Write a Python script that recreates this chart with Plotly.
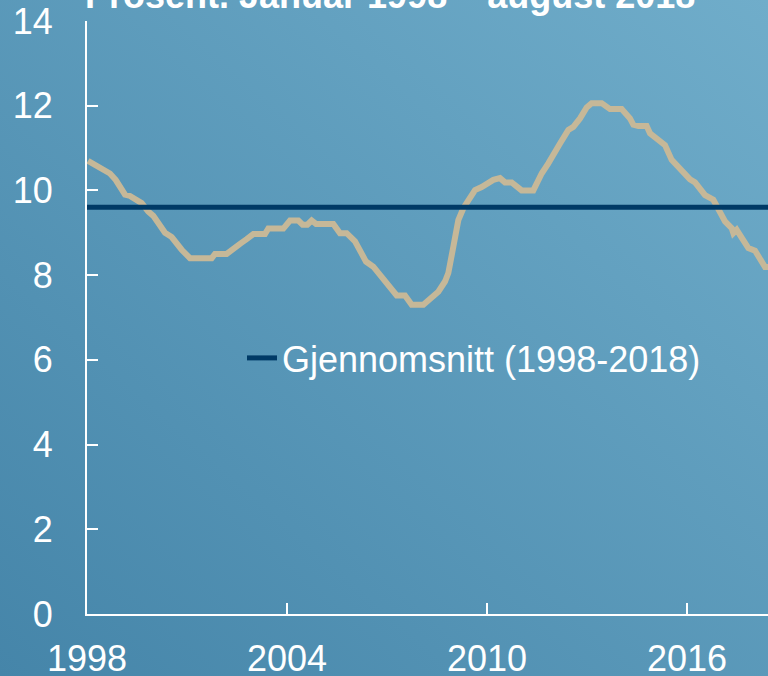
import base64
import plotly.graph_objects as go

# ---- data ----
years = [1998.03, 1998.24, 1998.44, 1998.69, 1998.86, 1999.14, 1999.29, 1999.44, 1999.64, 1999.84,
         1999.99, 2000.34, 2000.54, 2000.84, 2000.94, 2001.09, 2001.74, 2001.84, 2002.19, 2002.39,
         2002.59, 2002.79, 2002.99, 2003.34, 2003.44, 2003.89, 2004.09, 2004.34, 2004.47, 2004.61,
         2004.74, 2004.87, 2005.39, 2005.59, 2005.79, 2006.04, 2006.19, 2006.37, 2006.59, 2006.94,
         2007.29, 2007.54, 2007.74, 2008.09, 2008.24, 2008.39, 2008.54, 2008.74, 2008.84, 2008.99,
         2009.14, 2009.29, 2009.49, 2009.64, 2009.84, 2009.99, 2010.19, 2010.39, 2010.54, 2010.74,
         2010.89, 2011.04, 2011.39, 2011.49, 2011.64, 2011.84, 2012.04, 2012.19, 2012.44, 2012.59,
         2012.79, 2012.99, 2013.14, 2013.44, 2013.69, 2014.04, 2014.29, 2014.39, 2014.54, 2014.79,
         2014.89, 2015.09, 2015.34, 2015.54, 2015.69, 2015.89, 2016.09, 2016.24, 2016.54, 2016.79,
         2016.94, 2017.14, 2017.34, 2017.39, 2017.49, 2017.84, 2018.04, 2018.24, 2018.34, 2018.43]
values = [10.7, 10.6, 10.5, 10.4, 10.25, 9.9, 9.87, 9.8, 9.7, 9.5,
          9.4, 9.0, 8.9, 8.6, 8.52, 8.4, 8.4, 8.5, 8.5, 8.64,
          8.74, 8.85, 8.97, 8.97, 9.1, 9.1, 9.29, 9.29, 9.19, 9.19,
          9.29, 9.21, 9.21, 8.99, 8.99, 8.8, 8.61, 8.32, 8.2, 7.87,
          7.52, 7.52, 7.3, 7.3, 7.41, 7.49, 7.61, 7.85, 8.05, 8.67,
          9.3, 9.58, 9.85, 10.01, 10.08, 10.17, 10.25, 10.29, 10.19, 10.19,
          10.09, 10.0, 10.0, 10.17, 10.4, 10.64, 10.88, 11.11, 11.43, 11.5,
          11.7, 11.96, 12.06, 12.06, 11.92, 11.92, 11.7, 11.55, 11.52, 11.52,
          11.35, 11.23, 11.07, 10.72, 10.58, 10.44, 10.26, 10.19, 9.89, 9.78,
          9.58, 9.27, 9.11, 8.99, 9.07, 8.64, 8.58, 8.36, 8.19, 8.19]
avg_years = [1998.0, 2018.6]
avg_values = [9.6, 9.6]
avg_label = "Gjennomsnitt (1998-2018)"
title_text = "<b>Prosent. Januar 1998 – august 2018</b>"
x_ticks = [1998, 2004, 2010, 2016]
y_ticks = [0, 2, 4, 6, 8, 10, 12, 14]

W, H = 768, 676
L, R, T, B = 87, 0, 21, 62
pw, ph = W - L - R, H - T - B

FONT = "Liberation Sans, Arial, sans-serif"

svg = ('<svg xmlns="http://www.w3.org/2000/svg" width="768" height="676" preserveAspectRatio="none">'
       '<defs><linearGradient id="g" x1="0" y1="1" x2="1" y2="0">'
       '<stop offset="0" stop-color="#4585a9"/><stop offset="1" stop-color="#70adca"/>'
       '</linearGradient></defs><rect width="768" height="676" fill="url(#g)"/></svg>')
bg_src = "data:image/svg+xml;base64," + base64.b64encode(svg.encode()).decode()

fig = go.Figure()
fig.add_trace(go.Scatter(x=years, y=values, mode="lines",
                         line=dict(color="#c6b898", width=6),
                         showlegend=False, hoverinfo="skip"))
fig.add_trace(go.Scatter(x=avg_years, y=avg_values, mode="lines",
                         line=dict(color="#003a66", width=5),
                         name=avg_label, showlegend=True))

fig.update_layout(
    width=W, height=H,
    margin=dict(l=L, r=R, t=T, b=B, pad=0, autoexpand=False),
    paper_bgcolor="#5898bb",
    plot_bgcolor="rgba(0,0,0,0)",
    font=dict(family=FONT, color="white", size=36),
    images=[dict(source=bg_src, xref="paper", yref="paper",
                 x=-L / pw, y=1 + T / ph, sizex=W / pw, sizey=H / ph,
                 xanchor="left", yanchor="top", sizing="stretch", layer="below")],
    xaxis=dict(range=[1998, 1998 + pw * 0.03], tickvals=x_ticks,
               ticktext=[str(v) for v in x_ticks], automargin=False,
               showgrid=False, zeroline=False, showline=True, linecolor="white", linewidth=2,
               ticks="inside", ticklen=11, tickwidth=2, tickcolor="white",
               tickfont=dict(size=36, color="white", family=FONT), ticklabelstandoff=12),
    yaxis=dict(range=[0, 14], tickvals=y_ticks, automargin=False,
               showgrid=False, zeroline=False, showline=True, linecolor="white", linewidth=2,
               ticks="inside", ticklen=11, tickwidth=2, tickcolor="white",
               tickfont=dict(size=36, color="white", family=FONT), ticklabelstandoff=25),
    legend=dict(x=(242 - L) / pw, y=(614 - 358) / ph, xanchor="left", yanchor="middle",
                bgcolor="rgba(0,0,0,0)", borderwidth=0,
                font=dict(size=36, color="white", family=FONT)),
    annotations=[dict(text=title_text, xref="paper", yref="paper",
                      x=(390 - L) / pw, y=1, xanchor="center", yanchor="bottom",
                      yshift=3, showarrow=False,
                      font=dict(size=36, color="white", family=FONT))],
)

fig.write_html("out.html", config={"displayModeBar": False},
               post_script="document.body.style.margin='0';document.body.style.overflow='hidden';")
